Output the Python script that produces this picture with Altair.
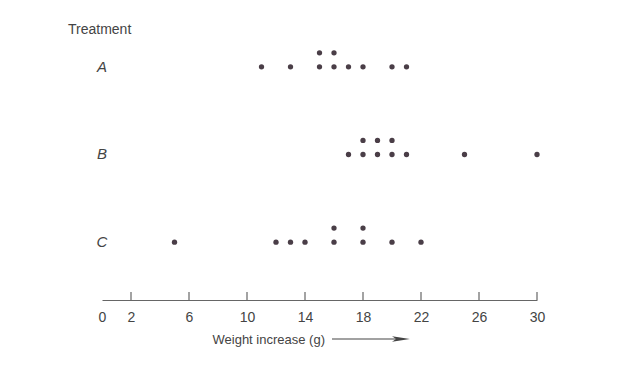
import altair as alt
import pandas as pd

# ---- data ----
treatments = ["A", "B", "C"]
values_A = [11, 13, 15, 15, 16, 16, 17, 18, 20, 21]
values_B = [17, 18, 18, 19, 19, 20, 20, 21, 25, 30]
values_C = [5, 12, 13, 14, 16, 16, 18, 18, 20, 22]
label_values = [0, 2, 6, 10, 14, 18, 22, 26, 30]
tick_values = [2, 6, 10, 14, 18, 22, 26, 30]

rows = []
for t, vals in zip(treatments, [values_A, values_B, values_C]):
    for v in vals:
        rows.append({"Treatment": t, "value": v})
df = pd.DataFrame(rows)
df["level"] = df.groupby(["Treatment", "value"]).cumcount()
df["row"] = df["Treatment"].map({t: i for i, t in enumerate(treatments)})
df["pos"] = df["row"] - 0.16 * df["level"]

lab = pd.DataFrame({"Treatment": treatments, "row": list(range(len(treatments)))})
ticks = pd.DataFrame({"t": tick_values})

W, H = 435, 270
FONT = "Liberation Sans"
INK = "#444444"
DOT = "#4a3e47"

xscale = alt.Scale(domain=[0, 30], nice=False, zero=False)
yscale = alt.Scale(domain=[-0.42, 2.66], reverse=True, nice=False, zero=False)

points = alt.Chart(df).mark_circle(size=28, opacity=1, color=DOT).encode(
    x=alt.X("value:Q", scale=xscale,
            axis=alt.Axis(values=label_values, tickSize=0, domainColor="#666666",
                          domainWidth=1.2, grid=False, labelFont=FONT, labelFontSize=14,
                          labelColor=INK, labelPadding=10, labelFlush=False,
                          title="Weight increase (g)", titleFont=FONT, titleFontSize=13,
                          titleFontWeight="normal", titleColor=INK, titleX=110,
                          titleY=39, titleAlign="left", titleBaseline="middle")),
    y=alt.Y("pos:Q", scale=yscale, axis=None),
)

tick_rules = alt.Chart(ticks).mark_rule(color="#666666", strokeWidth=1.2).encode(
    x=alt.X("t:Q", scale=xscale),
    y=alt.value(H),
    y2=alt.value(H - 8),
)

row_labels = alt.Chart(lab).mark_text(font=FONT, fontSize=15, fontStyle="italic",
                                      color=INK, align="center", baseline="middle").encode(
    x=alt.value(0),
    y=alt.Y("row:Q", scale=yscale),
    text="Treatment:N",
)

one = pd.DataFrame({"k": [0]})
title_txt = alt.Chart(one).mark_text(font=FONT, fontSize=14, color=INK, align="left",
                                     baseline="middle", text="Treatment").encode(
    x=alt.value(-34), y=alt.value(0)
)

arrow_line = alt.Chart(one).mark_rule(color=INK, strokeWidth=1.2).encode(
    x=alt.value(230), x2=alt.value(296), y=alt.value(309)
)
arrow_head = alt.Chart(one).mark_point(
    shape="M-1,-0.3L1,0L-1,0.3L-0.55,0Z", filled=True, size=320, color=INK, opacity=1
).encode(x=alt.value(299), y=alt.value(309))

chart = alt.layer(tick_rules, points, row_labels, title_txt, arrow_line, arrow_head).properties(
    width=W, height=H, background="white",
    padding={"left": 94, "top": 22, "right": 90, "bottom": 60},
    autosize=alt.AutoSizeParams(type="none"),
).configure_view(stroke=None)

chart.save("out.html", embed_options={"renderer": "svg", "actions": False})
